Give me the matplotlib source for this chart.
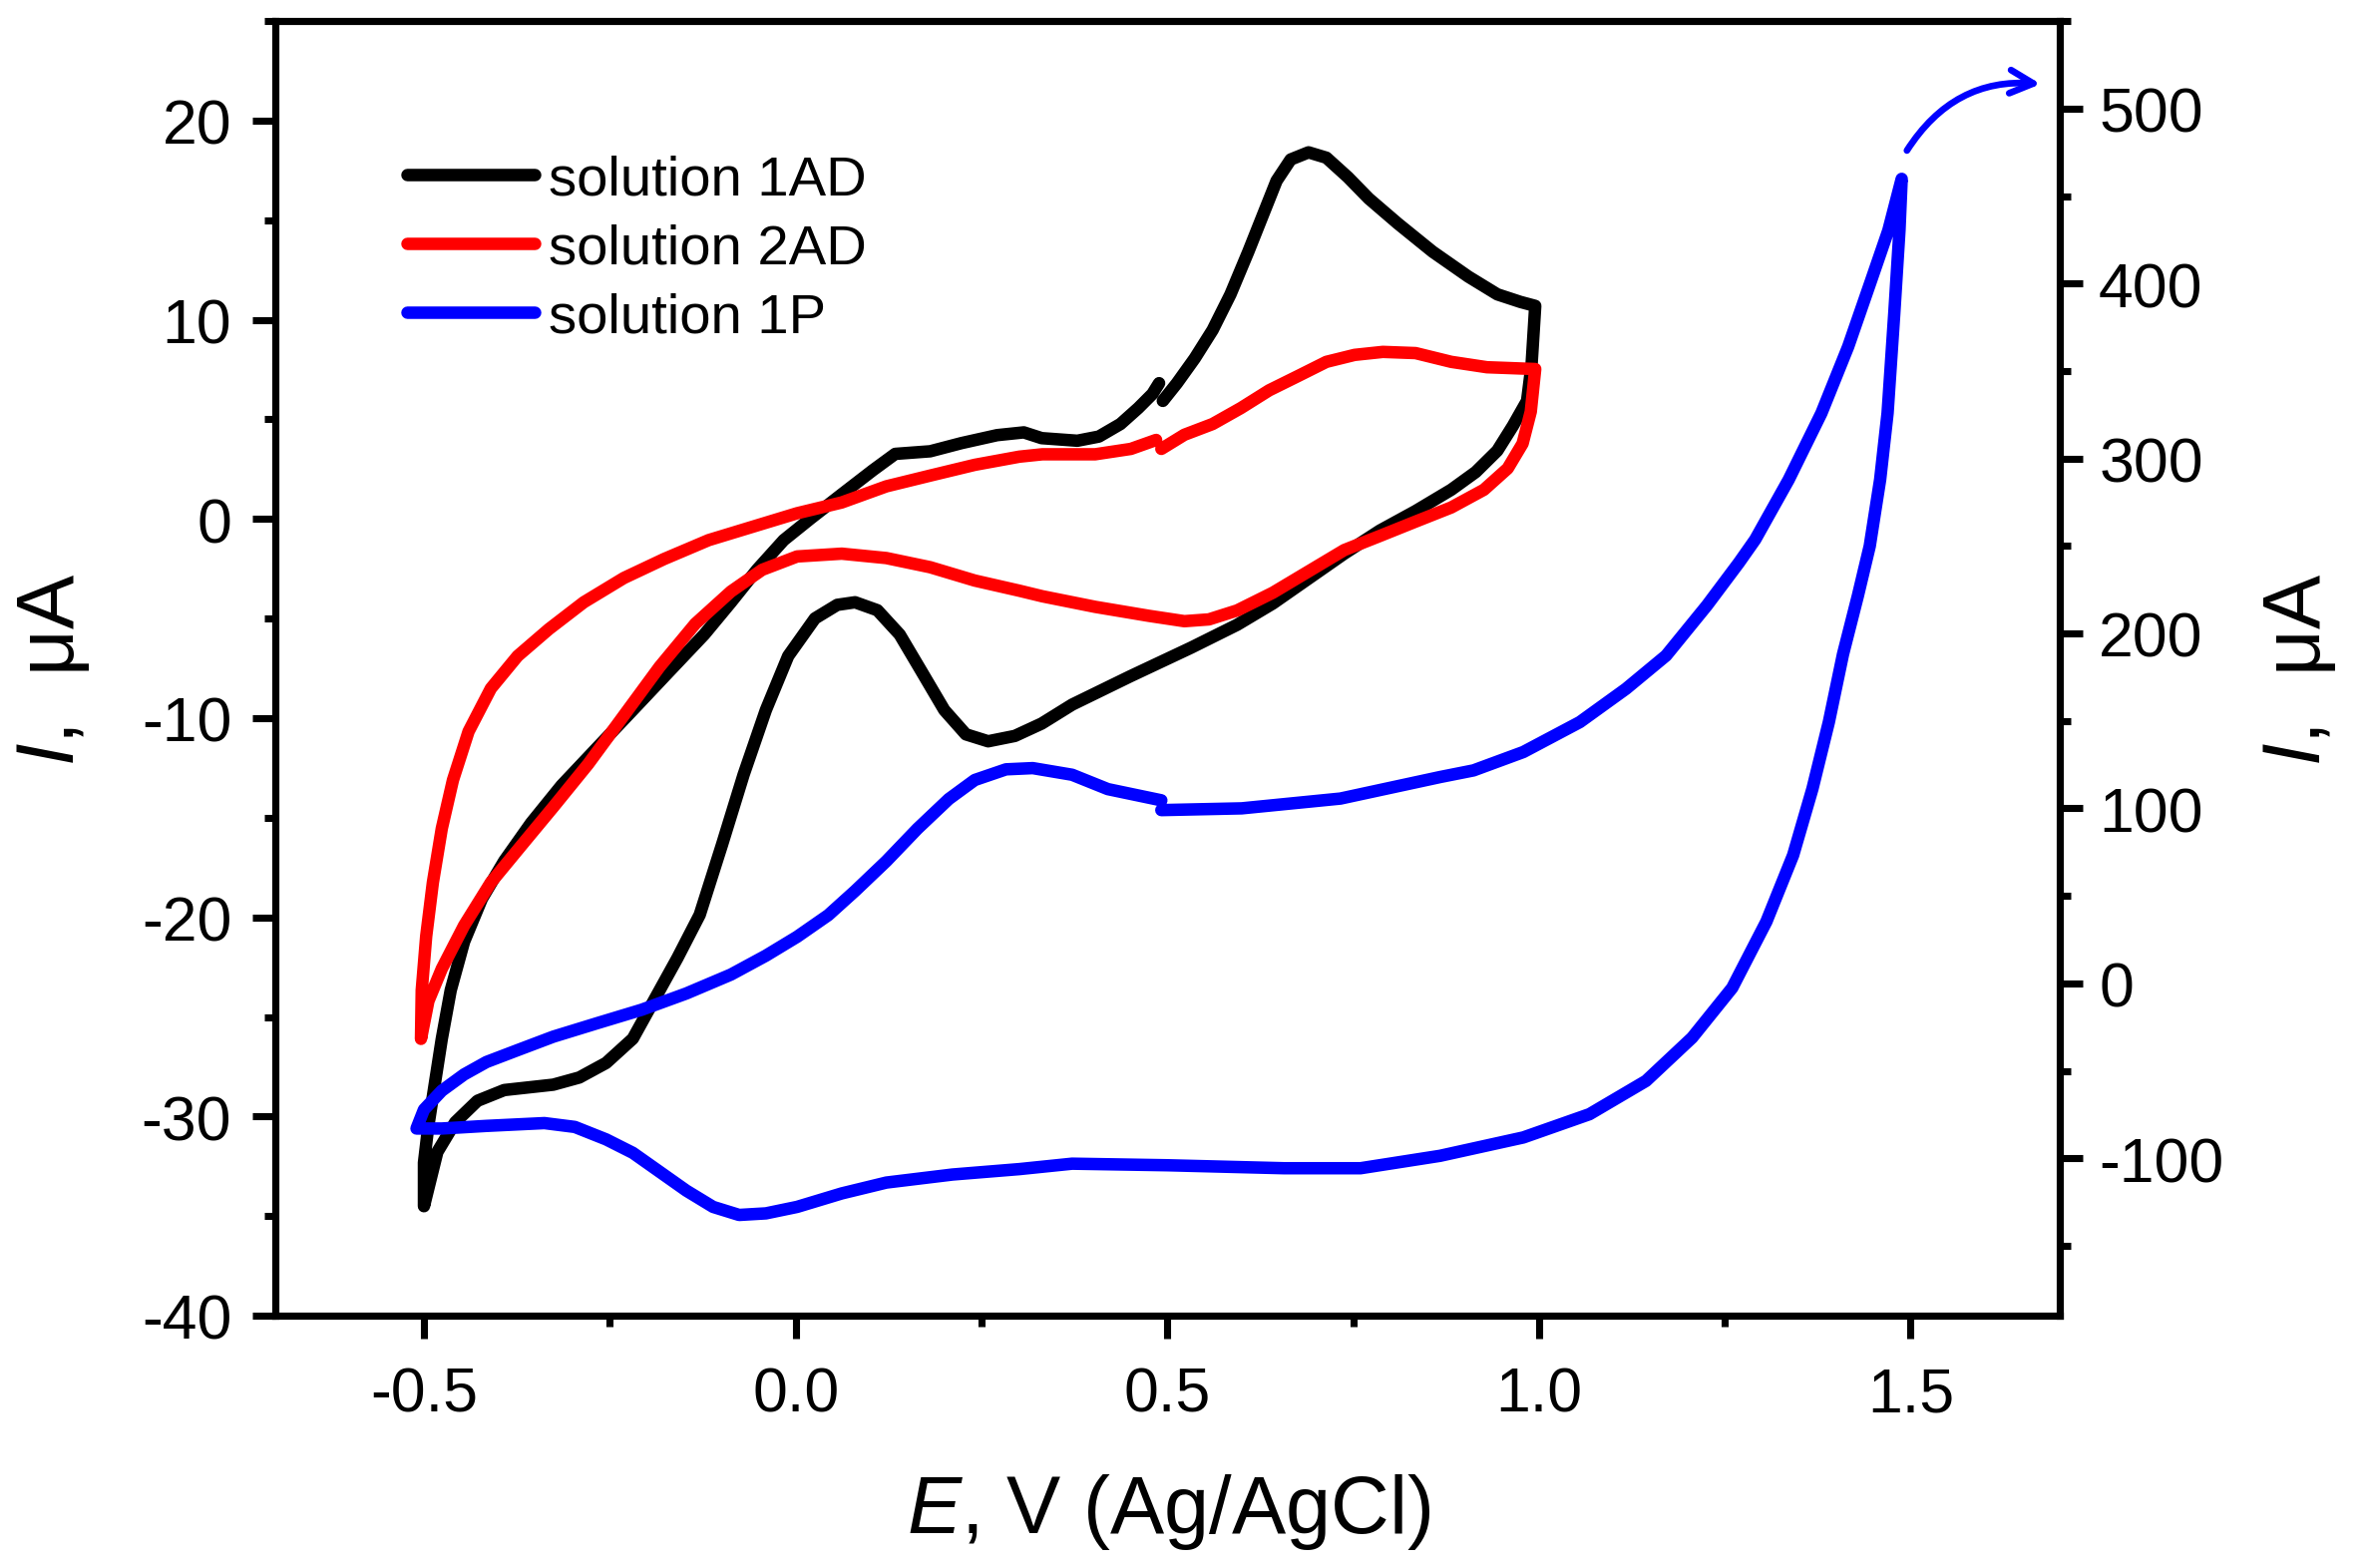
import matplotlib
matplotlib.use("Agg")
import matplotlib.pyplot as plt
from matplotlib.ticker import MultipleLocator

# cyclic voltammograms, (E in V, I in uA)
# each loop starts just after the small step at 0.5 V
# solution 1AD, left axis
CV_1AD = [(0.494, 5.93), (0.513, 6.82), (0.537, 8.07), (0.561, 9.49), (0.585, 11.28),
          (0.609, 13.42), (0.628, 15.20), (0.647, 16.98), (0.666, 18.05), (0.690, 18.41),
          (0.714, 18.14), (0.743, 17.16), (0.771, 16.09), (0.810, 14.84), (0.857, 13.42),
          (0.905, 12.17), (0.944, 11.28), (0.975, 10.9), (0.995, 10.7),
          (0.993, 9.49), (0.99, 7.71), (0.984, 5.93), (0.965, 4.68), (0.944, 3.43),
          (0.915, 2.36), (0.882, 1.47), (0.834, 0.40), (0.786, -0.58), (0.738, -1.74),
          (0.690, -2.99), (0.642, -4.24), (0.594, -5.31), (0.532, -6.46), (0.45, -7.9),
          (0.372, -9.32), (0.331, -10.27), (0.295, -10.89), (0.259, -11.16), (0.229, -10.81),
          (0.200, -9.59), (0.170, -7.69), (0.140, -5.80), (0.110, -4.58), (0.080, -4.18),
          (0.056, -4.31), (0.026, -4.99), (-0.010, -6.88), (-0.040, -9.59), (-0.070, -12.84),
          (-0.099, -16.35), (-0.129, -19.87), (-0.159, -22.04), (-0.195, -24.47),
          (-0.219, -26.09), (-0.255, -27.31), (-0.291, -28.04), (-0.326, -28.40),
          (-0.392, -28.67), (-0.428, -29.21), (-0.458, -30.29), (-0.482, -31.78),
          (-0.500, -34.5),
          (-0.500, -32.32), (-0.494, -30.43), (-0.485, -28.26), (-0.476, -26.10),
          (-0.464, -23.66), (-0.446, -21.22), (-0.422, -19.06), (-0.392, -17.17),
          (-0.356, -15.27), (-0.315, -13.38), (-0.267, -11.48), (-0.219, -9.59),
          (-0.171, -7.69), (-0.123, -5.80), (-0.087, -4.18), (-0.052, -2.55),
          (-0.016, -1.06), (0.020, 0.02), (0.062, 1.24), (0.104, 2.45), (0.134, 3.27),
          (0.181, 3.40), (0.223, 3.81), (0.271, 4.21), (0.307, 4.35), (0.331, 4.06),
          (0.379, 3.93), (0.408, 4.14), (0.437, 4.77), (0.461, 5.57), (0.480, 6.28),
          (0.489, 6.82)]

# solution 2AD, left axis
CV_2AD = [(0.492, 3.52), (0.523, 4.23), (0.561, 4.77), (0.599, 5.57), (0.637, 6.46),
          (0.676, 7.18), (0.714, 7.89), (0.752, 8.24), (0.790, 8.39), (0.834, 8.33),
          (0.882, 7.89), (0.930, 7.62), (0.995, 7.53),
          (0.993, 6.82), (0.989, 5.39), (0.978, 3.79), (0.958, 2.54), (0.926, 1.47),
          (0.882, 0.58), (0.834, -0.13), (0.786, -0.85), (0.738, -1.56), (0.690, -2.63),
          (0.642, -3.70), (0.594, -4.59), (0.556, -5.04), (0.523, -5.13), (0.475, -4.86),
          (0.403, -4.41), (0.332, -3.88), (0.301, -3.6), (0.241, -3.09), (0.181, -2.42),
          (0.122, -1.96), (0.062, -1.74), (0.002, -1.88), (-0.045, -2.55), (-0.087, -3.64),
          (-0.135, -5.26), (-0.183, -7.42), (-0.231, -9.86), (-0.279, -12.30),
          (-0.326, -14.46), (-0.368, -16.35), (-0.410, -18.25), (-0.446, -20.41),
          (-0.476, -22.58), (-0.494, -24.20), (-0.504, -26.10),
          (-0.503, -23.66), (-0.497, -20.95), (-0.488, -18.25), (-0.476, -15.54),
          (-0.461, -13.11), (-0.440, -10.67), (-0.410, -8.51), (-0.374, -6.88),
          (-0.332, -5.53), (-0.285, -4.18), (-0.231, -2.96), (-0.177, -2.01),
          (-0.117, -1.06), (-0.058, -0.39), (0.002, 0.29), (0.062, 0.83), (0.122, 1.64),
          (0.181, 2.18), (0.241, 2.72), (0.301, 3.13), (0.332, 3.25), (0.403, 3.25),
          (0.451, 3.52), (0.485, 3.97)]

# solution 1P, right axis
CV_1P = [(0.492, 99), (0.6, 100), (0.733, 105.6), (0.867, 117.9), (0.912, 121.7),
         (0.979, 132.2), (1.055, 149.3), (1.117, 168.3), (1.171, 187.3), (1.226, 216.0),
         (1.269, 240.4), (1.291, 253.7), (1.336, 287.9), (1.380, 325.9), (1.416, 363.9),
         (1.447, 401.9), (1.470, 430.3), (1.488, 459.8),
         (1.485, 430.3), (1.478, 382.8), (1.469, 325.9), (1.459, 287.9), (1.445, 249.9),
         (1.429, 221.4), (1.409, 188), (1.390, 149.3), (1.368, 111.3), (1.342, 73.3),
         (1.306, 35.3), (1.260, -2.6), (1.206, -31.1), (1.144, -55.8), (1.068, -74.8),
         (0.979, -88.1), (0.867, -98.6), (0.76, -105.7), (0.657, -105.7), (0.5, -104),
         (0.372, -103.1), (0.301, -106.2), (0.211, -109.3), (0.122, -113.9),
         (0.062, -120.1), (0.002, -127.8), (-0.040, -131.5), (-0.076, -132.4),
         (-0.111, -127.8), (-0.147, -118.5), (-0.183, -107.7), (-0.219, -96.9),
         (-0.255, -89.2), (-0.297, -82.1), (-0.338, -79.9), (-0.416, -81.5),
         (-0.476, -83.0), (-0.510, -83.0),
         (-0.500, -72.2), (-0.476, -61.4), (-0.446, -52.1), (-0.416, -45.0),
         (-0.374, -38.2), (-0.326, -30.5), (-0.267, -22.8), (-0.207, -15.1),
         (-0.147, -5.8), (-0.087, 5.0), (-0.040, 15.8), (0.002, 26.6), (0.044, 39.0),
         (0.080, 52.8), (0.122, 69.8), (0.164, 88.4), (0.206, 105.3), (0.241, 116.2),
         (0.283, 122.3), (0.319, 123.0), (0.372, 119.2), (0.42, 111), (0.492, 104.6)]

LABELS = ["solution 1AD", "solution 2AD", "solution 1P"]
COLORS = ["black", "red", "blue"]

X_TICKS = [-0.5, 0.0, 0.5, 1.0, 1.5]
LEFT_TICKS = [-40, -30, -20, -10, 0, 10, 20]
RIGHT_TICKS = [-100, 0, 100, 200, 300, 400, 500]

ARROW_FROM = (1.495, 476)   # arrow pointing at the right axis, ax2 data coords
ARROW_TO = (1.675, 514)

LW = 3.0
SPINE_LW = 1.7

plt.rcParams['font.family'] = ['Liberation Sans', 'DejaVu Sans']
plt.rcParams['mathtext.fontset'] = 'custom'
plt.rcParams['mathtext.rm'] = 'Liberation Sans'
plt.rcParams['mathtext.it'] = 'Liberation Sans:italic'
plt.rcParams['axes.unicode_minus'] = False


def plot_cv(axis, cv, color):
    e, i = zip(*cv)
    line, = axis.plot(e, i, color=color, lw=LW, solid_capstyle='round', solid_joinstyle='round')
    return line


fig = plt.figure(figsize=(7.91, 5.243), dpi=300)
ax = fig.add_axes([0.1163, 0.1608, 0.7537, 0.8252])
ax2 = ax.twinx()

l1 = plot_cv(ax, CV_1AD, COLORS[0])
l2 = plot_cv(ax, CV_2AD, COLORS[1])
l3 = plot_cv(ax2, CV_1P, COLORS[2])

ax.set_xlim(-0.7, 1.7)
ax.set_ylim(-40, 25)
ax2.set_ylim(-190, 550)

ax.set_xticks(X_TICKS)
ax.set_xticklabels(["%.1f" % v for v in X_TICKS])
ax.xaxis.set_minor_locator(MultipleLocator(0.25))
ax.set_yticks(LEFT_TICKS)
ax.yaxis.set_minor_locator(MultipleLocator(5))
ax2.set_yticks(RIGHT_TICKS)
ax2.yaxis.set_minor_locator(MultipleLocator(50))

for a in (ax, ax2):
    for s in a.spines.values():
        s.set_linewidth(SPINE_LW)
    a.tick_params(which='both', direction='out', width=SPINE_LW, top=False, labelsize=15)
    a.tick_params(which='major', length=5.5)
    a.tick_params(which='minor', length=2.6)
ax.tick_params(which='both', right=False)
ax.tick_params(axis='x', pad=6.5)
ax.tick_params(axis='y', pad=5)
ax2.tick_params(axis='y', pad=4)

ax.set_xlabel(r"$E$, V (Ag/AgCl)", fontsize=19.5)
ax.set_ylabel(r"$I$,  μA", fontsize=19.5)
ax2.set_ylabel(r"$I$,  μA", fontsize=19.5)
ax.xaxis.set_label_coords(0.501, -0.12)
ax.yaxis.set_label_coords(-0.103, 0.5)
ax2.yaxis.set_label_coords(1.113, 0.5)

ax2.annotate('', xy=ARROW_TO, xytext=ARROW_FROM,
             arrowprops=dict(arrowstyle='->', color='blue', lw=1.6,
                             connectionstyle='arc3,rad=-0.3',
                             shrinkA=0, shrinkB=0, mutation_scale=14))

ax2.legend([l1, l2, l3], LABELS, loc='upper left', bbox_to_anchor=(0.074, 0.897),
           frameon=False, fontsize=13.5, handlelength=2.27, handletextpad=0.25,
           labelspacing=0.3, borderpad=0, borderaxespad=0)

fig.savefig("out.png", dpi=300)
